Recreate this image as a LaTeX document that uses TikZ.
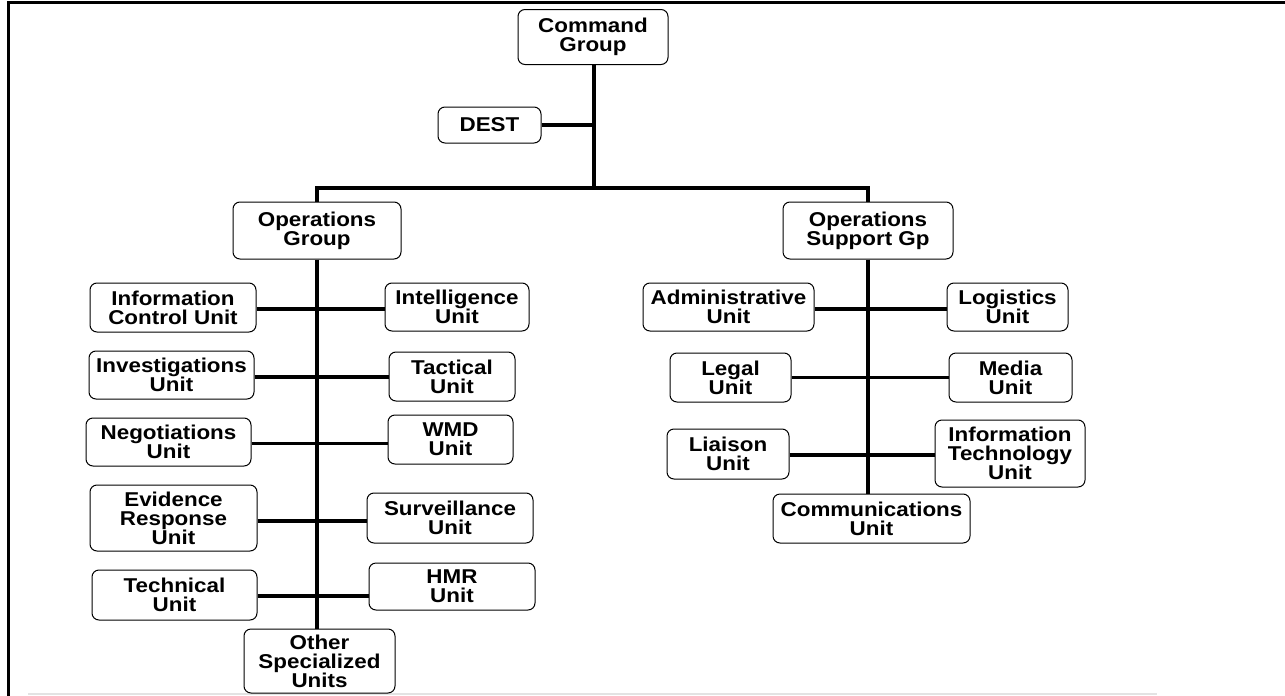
\documentclass[tikz,border=0pt]{standalone}
\usepackage{fontspec}
\setmainfont{Liberation Sans}[FakeStretch=1.12]
\begin{document}
\begin{tikzpicture}[x=1pt,y=-1pt,
  unit/.style={draw, line width=1pt, rounded corners=7pt, align=center, inner sep=0pt,
    font=\fontsize{20}{19}\selectfont\bfseries},
  link/.style={line width=3.2pt, black}]
\useasboundingbox (0,0) rectangle (1285,696);
% frame
\draw[line width=3pt] (7,2.5) -- (1285,2.5);
\draw[line width=3pt] (8.5,1) -- (8.5,696);
\draw[line width=2pt, gray!22] (28,694) -- (1157,694);

% nodes
\node[unit, minimum width=150pt, minimum height=55pt] (cmd) at (593,37) {Command\\Group};
\node[unit, minimum width=103pt, minimum height=36pt] (dest) at (489.5,125) {DEST};
\node[unit, minimum width=168pt, minimum height=57pt] (opg) at (317,230.5) {Operations\\Group};
\node[unit, minimum width=170pt, minimum height=57pt] (ops) at (868,230.5) {Operations\\Support Gp};

\node[unit, minimum width=166pt, minimum height=49pt] (icu) at (173,307.5) {Information\\Control Unit};
\node[unit, minimum width=144pt, minimum height=48pt] (intel) at (457,307) {Intelligence\\Unit};
\node[unit, minimum width=165pt, minimum height=48pt] (inv) at (171.5,375) {Investigations\\Unit};
\node[unit, minimum width=126pt, minimum height=49pt] (tac) at (452,376.5) {Tactical\\Unit};
\node[unit, minimum width=165pt, minimum height=48pt] (neg) at (168.5,442) {Negotiations\\Unit};
\node[unit, minimum width=125pt, minimum height=49pt] (wmd) at (450.5,439.5) {WMD\\Unit};
\node[unit, minimum width=167pt, minimum height=66pt] (evid) at (173.5,518) {Evidence\\Response\\Unit};
\node[unit, minimum width=166pt, minimum height=50pt] (surv) at (450,518) {Surveillance\\Unit};
\node[unit, minimum width=165pt, minimum height=50pt] (tech) at (174.5,595) {Technical\\Unit};
\node[unit, minimum width=166pt, minimum height=47pt] (hmr) at (452,586.5) {HMR\\Unit};
\node[unit, minimum width=151pt, minimum height=64pt] (other) at (319.5,661) {Other\\Specialized\\Units};

\node[unit, minimum width=171pt, minimum height=48pt] (adm) at (728.5,307) {Administrative\\Unit};
\node[unit, minimum width=121pt, minimum height=48pt] (log) at (1007.5,307) {Logistics\\Unit};
\node[unit, minimum width=121pt, minimum height=49pt] (legal) at (730.5,377.5) {Legal\\Unit};
\node[unit, minimum width=123pt, minimum height=49pt] (media) at (1010.5,377.5) {Media\\Unit};
\node[unit, minimum width=122pt, minimum height=50pt] (liaison) at (728,454) {Liaison\\Unit};
\node[unit, minimum width=150pt, minimum height=67pt] (it) at (1010,453.5) {Information\\Technology\\Unit};
\node[unit, minimum width=197pt, minimum height=49pt] (comm) at (871.5,518.5) {Communications\\Unit};

% junction coordinates
\coordinate (bus) at (594,188);
\coordinate (dj) at (594,125);

% connectors
\draw[link] (cmd.south -| bus) -- (bus);
\draw[link] (dest.east) -- (dj);
\draw[link] (opg.north) -- (opg.north |- bus) -- (ops.north |- bus) -- (ops.north);
\draw[link] (opg.south) -- (other.north -| opg.south);
\draw[link] (ops.south) -- (comm.north -| ops.south);

\draw[link] ([yshift=-1.5pt]icu.east) -- ([yshift=-1.5pt]icu.east -| intel.west);
\draw[link] ([yshift=-2pt]inv.east) -- ([yshift=-2pt]inv.east -| tac.west);
\draw[link] ([yshift=-1.5pt]neg.east) -- ([yshift=-1.5pt]neg.east -| wmd.west);
\draw[link] ([yshift=-3pt]evid.east) -- ([yshift=-3pt]evid.east -| surv.west);
\draw[link] ([yshift=-1pt]tech.east) -- ([yshift=-1pt]tech.east -| hmr.west);

\draw[link] ([yshift=-2pt]adm.east) -- ([yshift=-2pt]adm.east -| log.west);
\draw[link] (legal.east) -- (legal.east -| media.west);
\draw[link] ([yshift=-1pt]liaison.east) -- ([yshift=-1pt]liaison.east -| it.west);
\end{tikzpicture}
\end{document}
